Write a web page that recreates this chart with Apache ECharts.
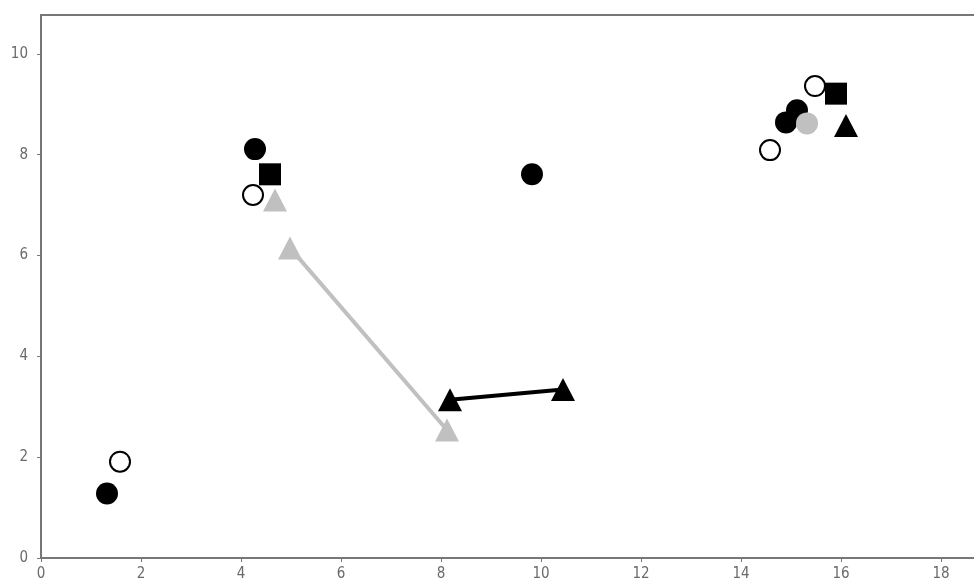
<!DOCTYPE html>
<html>
<head>
<meta charset="utf-8">
<script src="https://cdn.jsdelivr.net/npm/echarts@6/dist/echarts.min.js"></script>
<style>
  html, body { margin: 0; padding: 0; background: #fff; }
  #chart { width: 974px; height: 584px; }
</style>
</head>
<body>
<div id="chart"></div>
<script>
// point data
const blackCircles = [[1.32, 1.28], [4.28, 8.11], [9.82, 7.61], [14.9, 8.64], [15.12, 8.88]];
const openCircles = [[1.58, 1.91], [4.24, 7.20], [14.58, 8.09], [15.48, 9.36]];
const greyCircles = [[15.32, 8.62]];
const blackSquares = [[4.58, 7.61], [15.9, 9.21]];
const greyTriangles = [[4.68, 7.10]];
const greyLine = [[4.98, 6.15], [8.12, 2.54]];
const blackTriangles = [[16.1, 8.58]];
const blackLine = [[8.18, 3.14], [10.44, 3.34]];
const xTicks = [0, 2, 4, 6, 8, 10, 12, 14, 16, 18];
const yTicks = [0, 2, 4, 6, 8, 10];

const grey = '#c0c0c0';
const axisCol = '#777';
const labelCol = '#6a6a6a';
const triSize = [24, 23];

const axisLine = { show: true, onZero: false, lineStyle: { color: axisCol, width: 2 } };
const labelStyle = {
  color: labelCol, fontSize: 15,
  fontFamily: '"DejaVu Sans Condensed", "DejaVu Sans", sans-serif'
};

const chart = echarts.init(document.getElementById('chart'), null, { renderer: 'canvas' });
chart.setOption({
  animation: false,
  grid: { left: 41, top: 15, right: 0, bottom: 26 },
  xAxis: [
    {
      type: 'value', min: 0, max: 18.66,
      axisLine,
      axisTick: { show: true, length: 4, customValues: xTicks, lineStyle: { color: axisCol } },
      axisLabel: { ...labelStyle, margin: 9, customValues: xTicks, showMaxLabel: true },
      splitLine: { show: false },
    },
    {
      type: 'value', position: 'top', min: 0, max: 18.66,
      axisLine, axisTick: { show: false }, axisLabel: { show: false }, splitLine: { show: false },
    },
  ],
  yAxis: {
    type: 'value', min: 0, max: 10.77,
    axisLine,
    axisTick: { show: true, length: 4, customValues: yTicks, lineStyle: { color: axisCol } },
    axisLabel: { ...labelStyle, margin: 13, customValues: yTicks },
    splitLine: { show: false },
  },
  series: [
    {
      type: 'line', data: greyLine, symbol: 'triangle', symbolSize: triSize,
      lineStyle: { color: grey, width: 4 }, itemStyle: { color: grey, opacity: 1 }, z: 2,
    },
    {
      type: 'line', data: blackLine, symbol: 'triangle', symbolSize: triSize,
      lineStyle: { color: '#000', width: 4 }, itemStyle: { color: '#000', opacity: 1 }, z: 3,
    },
    {
      type: 'scatter', data: greyTriangles, symbol: 'triangle', symbolSize: triSize,
      itemStyle: { color: grey, opacity: 1 }, z: 3,
    },
    {
      type: 'scatter', data: blackTriangles, symbol: 'triangle', symbolSize: triSize,
      itemStyle: { color: '#000', opacity: 1 }, z: 3,
    },
    {
      type: 'scatter', data: blackSquares, symbol: 'rect', symbolSize: 22,
      itemStyle: { color: '#000', opacity: 1 }, z: 4,
    },
    {
      type: 'scatter', data: blackCircles, symbol: 'circle', symbolSize: 22,
      itemStyle: { color: '#000', opacity: 1 }, z: 4,
    },
    {
      type: 'scatter', data: greyCircles, symbol: 'circle', symbolSize: 22,
      itemStyle: { color: grey, opacity: 1 }, z: 5,
    },
    {
      type: 'scatter', data: openCircles, symbol: 'circle', symbolSize: 20,
      itemStyle: { color: '#fff', borderColor: '#000', borderWidth: 2, opacity: 1 }, z: 5,
    },
  ],
});
</script>
</body>
</html>
